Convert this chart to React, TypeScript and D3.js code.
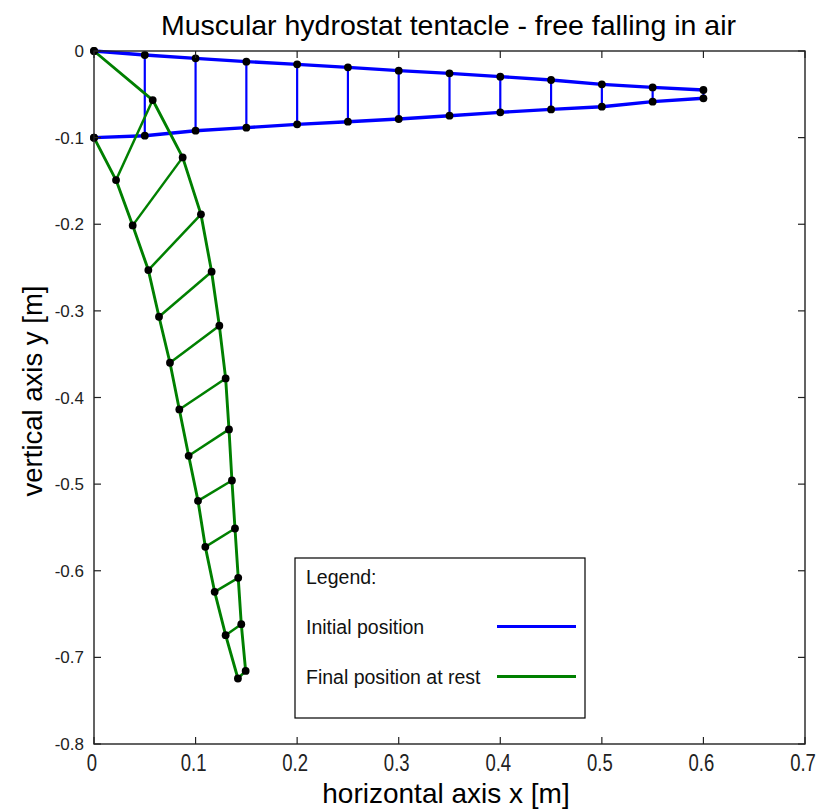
import React from "react";
import * as d3 from "d3";

const TITLE = "Muscular hydrostat tentacle - free falling in air";
const X_LABEL = "horizontal axis x [m]";
const Y_LABEL = "vertical axis y [m]";
const X_TICKS = [0, 0.1, 0.2, 0.3, 0.4, 0.5, 0.6, 0.7];
const Y_TICKS = [0, -0.1, -0.2, -0.3, -0.4, -0.5, -0.6, -0.7, -0.8];

// Initial position (blue): upper and lower chains
const initX = [0, 0.05, 0.1, 0.15, 0.2, 0.25, 0.3, 0.35, 0.4, 0.45, 0.5, 0.55, 0.6];
const initTopY = [0, -0.0046, -0.0085, -0.0123, -0.0154, -0.0189, -0.0227, -0.0258, -0.0296, -0.0335, -0.0385, -0.042, -0.045];
const initBotY = [-0.1, -0.0978, -0.092, -0.0885, -0.0847, -0.0816, -0.0785, -0.0747, -0.0708, -0.0674, -0.0643, -0.0585, -0.0546];

// Final position at rest (green): chain A (from origin) and chain B (from -0.1)
const finAX = [0, 0.0578, 0.0873, 0.1053, 0.1158, 0.1234, 0.1296, 0.1329, 0.1358, 0.1388, 0.142, 0.145, 0.1493];
const finAY = [0, -0.0566, -0.1228, -0.1886, -0.2548, -0.3172, -0.378, -0.4368, -0.4958, -0.5512, -0.6082, -0.6617, -0.7156];
const finBX = [0, 0.0217, 0.0381, 0.0535, 0.064, 0.0748, 0.084, 0.0932, 0.1024, 0.1096, 0.1188, 0.1296, 0.1417];
const finBY = [-0.1, -0.149, -0.2013, -0.2529, -0.3068, -0.3599, -0.4138, -0.4673, -0.5193, -0.5724, -0.6243, -0.6744, -0.7244];

const LEGEND_TITLE = "Legend:";
const LEGEND_ITEMS = ["Initial position", "Final position at rest"];

const BLUE = "#0000ff";
const GREEN = "#008000";

export default function App() {
  const W = 817, H = 811;
  const L = 94, R = 805, T = 51, B = 744;
  const x = d3.scaleLinear().domain([0, 0.7]).range([L, R]);
  const y = d3.scaleLinear().domain([-0.8, 0]).range([B, T]);
  const line = d3.line<[number, number]>().x(d => x(d[0])).y(d => y(d[1]));

  const initTop: [number, number][] = initX.map((v, i) => [v, initTopY[i]]);
  const initBot: [number, number][] = initX.map((v, i) => [v, initBotY[i]]);
  const finA: [number, number][] = finAX.map((v, i) => [v, finAY[i]]);
  const finB: [number, number][] = finBX.map((v, i) => [v, finBY[i]]);

  const font = "'Liberation Sans', Arial, Helvetica, sans-serif";
  const tickLen = 7;

  // rungs between the two chains (the clamped base segment lies on the axis and is not shown)
  const drawBody = (a: [number, number][], b: [number, number][], color: string, outerW: number, rungW: number, key: string) => (
    <g key={key}>
      {a.map((p, i) =>
        i === 0 ? null : (
          <path key={"r" + i} d={line([p, b[i]]) || ""} stroke={color} strokeWidth={rungW} fill="none" />
        )
      )}
      <path d={line(a) || ""} stroke={color} strokeWidth={outerW} fill="none" strokeLinejoin="round" />
      <path d={line(b) || ""} stroke={color} strokeWidth={outerW} fill="none" strokeLinejoin="round" />
    </g>
  );

  const dots = (pts: [number, number][], key: string) =>
    pts.map((p, i) => <circle key={key + i} cx={x(p[0])} cy={y(p[1])} r={3.9} fill="#000" />);

  return (
    <svg width={W} height={H} style={{ position: "absolute", left: 0, top: 0, background: "#fff" }} fontFamily={font}>
      <rect x={0} y={0} width={W} height={H} fill="#fff" />
      <text x={(L + R) / 2 - 1} y={35} textAnchor="middle" fontSize={28.5}>{TITLE}</text>

      {/* data */}
      {drawBody(initTop, initBot, BLUE, 3.4, 2.2, "init")}
      {drawBody(finA, finB, GREEN, 2.9, 2.5, "fin")}
      {dots(initTop, "it")}
      {dots(initBot, "ib")}
      {dots(finA, "fa")}
      {dots(finB, "fb")}

      {/* axes box */}
      <rect x={L} y={T} width={R - L} height={B - T} fill="none" stroke="#222" strokeWidth={1.4} />
      {X_TICKS.map((t, i) => (
        <g key={"xt" + i}>
          <line x1={x(t)} x2={x(t)} y1={B} y2={B - tickLen} stroke="#222" strokeWidth={1.2} />
          <line x1={x(t)} x2={x(t)} y1={T} y2={T + tickLen} stroke="#222" strokeWidth={1.2} />
          <text transform={`translate(${x(t) - 2},771) scale(1,1.25)`} textAnchor="middle" fontSize={18.5} fill="#222">{String(t)}</text>
        </g>
      ))}
      {Y_TICKS.map((t, i) => (
        <g key={"yt" + i}>
          <line x1={L} x2={L + tickLen} y1={y(t)} y2={y(t)} stroke="#222" strokeWidth={1.2} />
          <line x1={R} x2={R - tickLen} y1={y(t)} y2={y(t)} stroke="#222" strokeWidth={1.2} />
          <text x={84} y={y(t) + 6} textAnchor="end" fontSize={17} fill="#222">{String(t)}</text>
        </g>
      ))}
      <text x={446} y={803} textAnchor="middle" fontSize={28}>{X_LABEL}</text>
      <text transform={`translate(42,391) rotate(-90)`} textAnchor="middle" fontSize={27.5}>{Y_LABEL}</text>

      {/* legend */}
      <rect x={295} y={558} width={290} height={160} fill="#fff" stroke="#000" strokeWidth={1.2} />
      <text x={306} y={584} fontSize={19.5} fill="#111">{LEGEND_TITLE}</text>
      {LEGEND_ITEMS.map((s, i) => (
        <g key={"lg" + i}>
          <text x={306} y={634 + i * 50} fontSize={19.5} fill="#111">{s}</text>
          <line x1={497} x2={576} y1={626.5 + i * 50} y2={626.5 + i * 50} stroke={i === 0 ? BLUE : GREEN} strokeWidth={2.8} />
        </g>
      ))}
    </svg>
  );
}
